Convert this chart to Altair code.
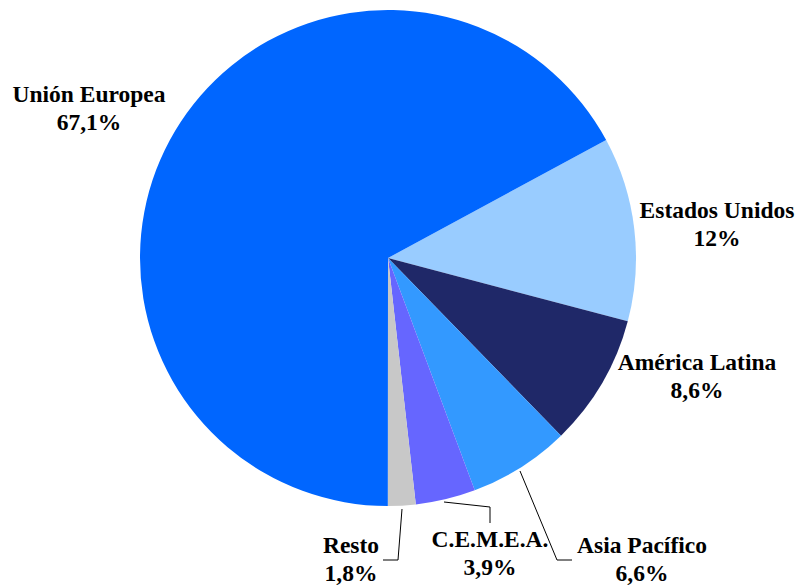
import math
import altair as alt
import pandas as pd

# ---- data ----
regions = ["Estados Unidos", "América Latina", "Asia Pacífico", "C.E.M.E.A.", "Resto", "Unión Europea"]
shares = [12.0, 8.6, 6.6, 3.9, 1.8, 67.1]
colors = ["#99CCFF", "#1F2868", "#3399FF", "#6666FF", "#C8C8C8", "#0066FF"]

# ---- layout (chart pixel space) ----
CX, CY, R = 380, 250, 248
START_DEG = 61.6
label_x = [709, 689, 634, 482, 343, 81]
label_y1 = [210, 362, 545, 539, 545, 94]
LINE_GAP = 28
leaders = [  # (x, y, x2, y2)
    (394, 501, 390, 552), (390, 552, 375, 552),          # Resto
    (436, 494, 482, 499), (482, 499, 482, 515),          # C.E.M.E.A.
    (512, 463, 549, 552), (549, 552, 564, 552),          # Asia Pacífico
]

def pct(v):
    return f"{v:g}".replace(".", ",") + "%"

df = pd.DataFrame({"region": regions, "share": shares, "idx": list(range(len(regions)))})
lab = pd.DataFrame({
    "region": regions,
    "pct": [pct(v) for v in shares],
    "lx": label_x,
    "ly1": label_y1,
    "ly2": [y + LINE_GAP for y in label_y1],
})
seg = pd.DataFrame(leaders, columns=["x", "y", "x2", "y2"])

off = math.radians(START_DEG)
pie = alt.Chart(df).mark_arc(stroke=None).encode(
    theta=alt.Theta("share:Q", stack=True, scale=alt.Scale(range=[off, off + 2 * math.pi])),
    order=alt.Order("idx:Q"),
    color=alt.Color("region:N", scale=alt.Scale(domain=regions, range=colors), legend=None),
    x=alt.value(CX), y=alt.value(CY), radius=alt.value(R),
)

font = dict(font="Liberation Serif, Times New Roman, serif", fontWeight="bold", fontSize=23.5,
            color="#000000", align="center", baseline="alphabetic")
t1 = alt.Chart(lab).mark_text(**font).encode(
    x=alt.X("lx:Q", scale=None), y=alt.Y("ly1:Q", scale=None), text="region:N")
t2 = alt.Chart(lab).mark_text(**font).encode(
    x=alt.X("lx:Q", scale=None), y=alt.Y("ly2:Q", scale=None), text="pct:N")

lines = alt.Chart(seg).mark_rule(color="#000000", strokeWidth=1).encode(
    x=alt.X("x:Q", scale=None), y=alt.Y("y:Q", scale=None),
    x2="x2:Q", y2="y2:Q")

chart = alt.layer(pie, lines, t1, t2).properties(
    width=787, height=577, padding=0, autosize=alt.AutoSizeParams(type="none")
).configure_view(stroke=None)

chart.save("out.html", embed_options={"renderer": "svg", "actions": False})
